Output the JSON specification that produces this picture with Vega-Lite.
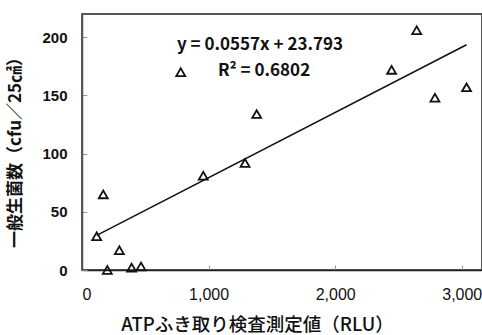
{
  "$schema": "https://vega.github.io/schema/vega-lite/v6.json",
  "width": 400,
  "height": 256,
  "autosize": {"type": "none"},
  "padding": {"left": 82, "top": 14, "right": 0, "bottom": 65},
  "background": "white",
  "config": {
    "view": {"stroke": "#222", "strokeWidth": 1.5},
    "font": "Noto Sans CJK JP"
  },
  "datasets": {
    "pts": [
      {"atp": 116, "count": 29},
      {"atp": 168, "count": 65},
      {"atp": 200, "count": 0},
      {"atp": 295, "count": 17},
      {"atp": 392, "count": 2},
      {"atp": 466, "count": 3},
      {"atp": 780, "count": 170},
      {"atp": 958, "count": 81},
      {"atp": 1288, "count": 92},
      {"atp": 1380, "count": 134},
      {"atp": 2446, "count": 172},
      {"atp": 2644, "count": 206},
      {"atp": 2788, "count": 148},
      {"atp": 3038, "count": 157}
    ],
    "labels": [
      {"atp": 750, "count": 193, "label": "y = 0.0557x + 23.793"},
      {"atp": 1074, "count": 171, "label": "R² = 0.6802"}
    ]
  },
  "layer": [
    {
      "data": {"name": "pts"},
      "mark": {"type": "point", "shape": "triangle-up", "filled": false, "stroke": "#111", "strokeWidth": 1.8, "size": 80, "opacity": 1},
      "encoding": {
        "x": {
          "field": "atp", "type": "quantitative",
          "scale": {"domain": [0, 3160], "nice": false, "zero": true},
          "axis": {
            "values": [0, 1000, 2000, 3000],
            "format": ",d",
            "grid": false,
            "domainColor": "#222",
            "domainWidth": 1.5,
            "tickColor": "#999",
            "tickSize": -5,
            "labelPadding": 21,
            "labelFont": "Liberation Sans",
            "labelFontSize": 16,
            "labelColor": "#111",
            "title": "ATPふき取り検査測定値（RLU）",
            "titleFont": "Noto Sans CJK JP",
            "titleFontSize": 18.5,
            "titleFontWeight": 500,
            "titleColor": "#111",
            "titleX": 175,
            "titleY": 54,
            "titleBaseline": "middle",
            "titleAlign": "center"
          }
        },
        "y": {
          "field": "count", "type": "quantitative",
          "scale": {"domain": [0, 220], "nice": false},
          "axis": {
            "values": [0, 50, 100, 150, 200],
            "grid": false,
            "domainColor": "#555",
            "domainWidth": 1.5,
            "tickColor": "#999",
            "tickSize": -5,
            "labelPadding": 20,
            "labelFont": "Liberation Sans",
            "labelFontSize": 15,
            "labelFontWeight": "bold",
            "labelColor": "#111",
            "title": "一般生菌数（cfu／25㎠）",
            "titleFont": "Noto Sans CJK JP",
            "titleFontSize": 17,
            "titleFontWeight": "bold",
            "titleColor": "#111",
            "titleAngle": -90,
            "titleX": -67,
            "titleY": 134,
            "titleBaseline": "middle",
            "titleAlign": "center"
          }
        }
      }
    },
    {
      "data": {"name": "pts"},
      "transform": [{"regression": "count", "on": "atp"}],
      "mark": {"type": "line", "color": "#111", "strokeWidth": 1.5},
      "encoding": {
        "x": {"field": "atp", "type": "quantitative"},
        "y": {"field": "count", "type": "quantitative"}
      }
    },
    {
      "data": {"name": "labels"},
      "mark": {"type": "text", "align": "left", "baseline": "middle", "font": "Noto Sans CJK JP", "fontSize": 17, "fontWeight": "bold", "color": "#111"},
      "encoding": {
        "x": {"field": "atp", "type": "quantitative"},
        "y": {"field": "count", "type": "quantitative"},
        "text": {"field": "label"}
      }
    }
  ]
}
